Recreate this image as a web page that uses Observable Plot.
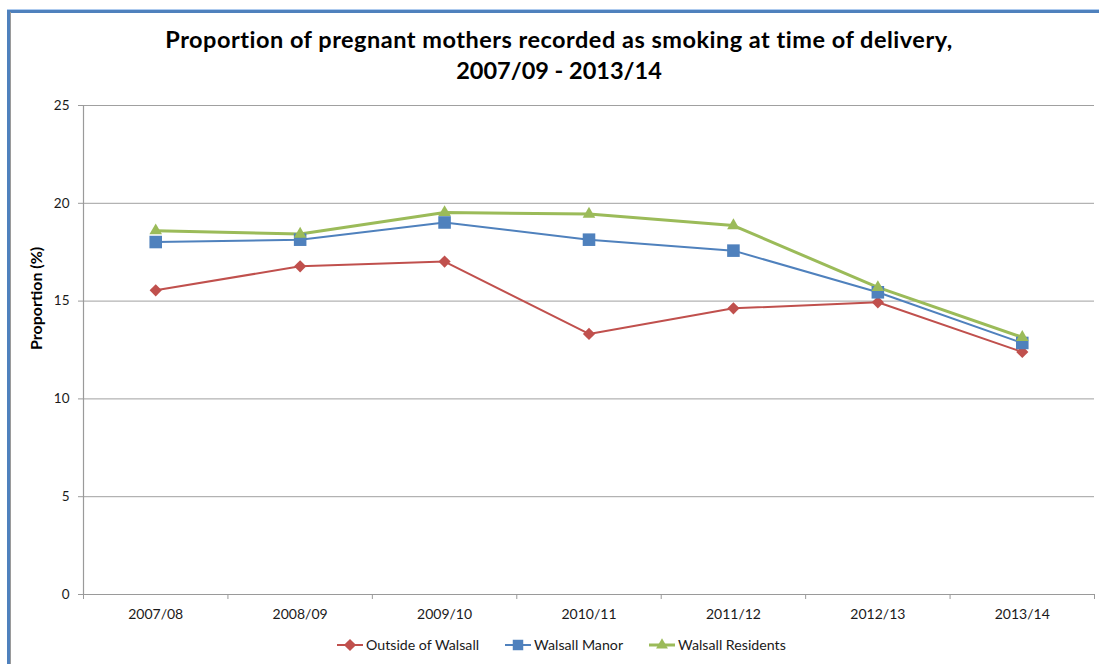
<!DOCTYPE html>
<html>
<head>
<meta charset="utf-8">
<script src="https://cdn.jsdelivr.net/npm/d3@7"></script>
<script src="https://cdn.jsdelivr.net/npm/@observablehq/plot@0.6"></script>
<style>
  html, body { margin: 0; padding: 0; background: #fff; }
  body { width: 1099px; height: 664px; position: relative; overflow: hidden; font-family: "Lato", "Open Sans", sans-serif; color: #1a1a1a; }
  .title { position: absolute; left: 0; width: 1118px; top: 24px; text-align: center; font-weight: bold; font-size: 23.5px; line-height: 31px; color: #000; }
  .title .l1 { letter-spacing: 0.5px; }
  #chart { position: absolute; left: 0; top: 90px; }
  .legend { position: absolute; top: 636px; left: 337px; display: flex; align-items: center; font-size: 14.2px; color: #1a1a1a; }
  .legend .item { display: flex; align-items: center; margin-right: 26px; }
  .legend svg { margin-right: 3px; }
  .border-blue-left { position: absolute; left: 7px; top: 10px; width: 3px; height: 660px; background: #4f81bd; }
  .border-gray-left { position: absolute; left: 10px; top: 12px; width: 1px; height: 660px; background: #9a9a9a; }
  .border-blue-top { position: absolute; left: 7px; top: 10px; width: 1100px; height: 3px; background: #4f81bd; }
  .border-light-top { position: absolute; left: 7px; top: 9px; width: 1100px; height: 1px; background: #aecbef; }
</style>
</head>
<body>
<div class="border-light-top"></div>
<div class="border-blue-top"></div>
<div class="border-blue-left"></div>
<div class="border-gray-left"></div>
<div class="title"><span class="l1">Proportion of pregnant mothers recorded as smoking at time of delivery,</span><br>2007/09 - 2013/14</div>
<div id="chart"></div>
<div class="legend" id="legend"></div>
<script>
const years = ["2007/08", "2008/09", "2009/10", "2010/11", "2011/12", "2012/13", "2013/14"];
const outsideWalsall = [15.55, 16.78, 17.02, 13.32, 14.63, 14.94, 12.40];
const walsallManor = [18.02, 18.14, 19.02, 18.14, 17.58, 15.45, 12.86];
const walsallResidents = [18.60, 18.43, 19.53, 19.45, 18.86, 15.70, 13.15];
const yTicks = [0, 5, 10, 15, 20, 25];
const seriesNames = ["Outside of Walsall", "Walsall Manor", "Walsall Residents"];
const seriesColors = ["#c0504d", "#4f81bd", "#9bbb59"];
const seriesSymbols = ["diamond2", "square2", "triangle2"];
const seriesValues = [outsideWalsall, walsallManor, walsallResidents];

const rows = seriesValues.map((vals, s) => vals.map((v, i) => ({series: seriesNames[s], xi: i + 0.5, value: v})));

const lineWidths = [2, 2, 3];
const dotR = [5.5, 8, 6];

const marks = [
  Plot.gridY(yTicks.filter(d => d > 0), {stroke: "#a0a0a0", strokeOpacity: 1, strokeWidth: 1}),
  Plot.ruleX([0], {stroke: "#9a9a9a", strokeWidth: 1.2}),
  Plot.ruleY([0], {stroke: "#9a9a9a", strokeWidth: 1.2}),
  Plot.axisY({ticks: yTicks, tickSize: 5, tickPadding: 9, fontSize: 13.5, label: null, stroke: "#9a9a9a", fill: "#1a1a1a"}),
  Plot.axisX({ticks: d3.range(years.length + 1), tickSize: 5, tickFormat: () => "", label: null, stroke: "#9a9a9a"}),
  Plot.axisX({ticks: years.map((d, i) => i + 0.5), tickSize: 0, tickPadding: 15, tickFormat: d => years[Math.floor(d)], fontSize: 14, label: null, fill: "#1a1a1a"}),
  Plot.text(["Proportion (%)"], {frameAnchor: "left", rotate: -90, dx: -47, fontSize: 16, fontWeight: "bold", fill: "#000"})
];
rows.forEach((r, s) => {
  marks.push(Plot.line(r, {x: "xi", y: "value", stroke: seriesColors[s], strokeWidth: lineWidths[s]}));
});
rows.forEach((r, s) => {
  marks.push(Plot.dot(r, {x: "xi", y: "value", symbol: () => seriesSymbols[s], r: dotR[s], fill: seriesColors[s], stroke: "none"}));
});

const chart = Plot.plot({
  width: 1099,
  height: 545,
  marginLeft: 83,
  marginRight: 5,
  marginTop: 15,
  marginBottom: 41,
  style: {fontFamily: "Lato, 'Open Sans', sans-serif", background: "transparent", overflow: "visible"},
  x: {type: "linear", domain: [0, years.length], axis: null},
  y: {domain: [0, 25], axis: null},
  symbol: {type: "identity"},
  marks
});
document.getElementById("chart").appendChild(chart);

// Legend
const legend = document.getElementById("legend");
const symbolTypes = {diamond2: d3.symbolDiamond2, square2: d3.symbolSquare2, triangle2: d3.symbolTriangle2};
const legendSize = [95, 140, 100];
seriesNames.forEach((name, s) => {
  const item = document.createElement("div");
  item.className = "item";
  const svg = d3.create("svg").attr("width", 26).attr("height", 14);
  svg.append("line").attr("x1", 0).attr("x2", 26).attr("y1", 7).attr("y2", 7).attr("stroke", seriesColors[s]).attr("stroke-width", lineWidths[s]);
  svg.append("path").attr("transform", "translate(13,7)").attr("d", d3.symbol(symbolTypes[seriesSymbols[s]], legendSize[s])()).attr("fill", seriesColors[s]);
  item.appendChild(svg.node());
  const span = document.createElement("span");
  span.textContent = name;
  item.appendChild(span);
  legend.appendChild(item);
});
</script>
</body>
</html>
